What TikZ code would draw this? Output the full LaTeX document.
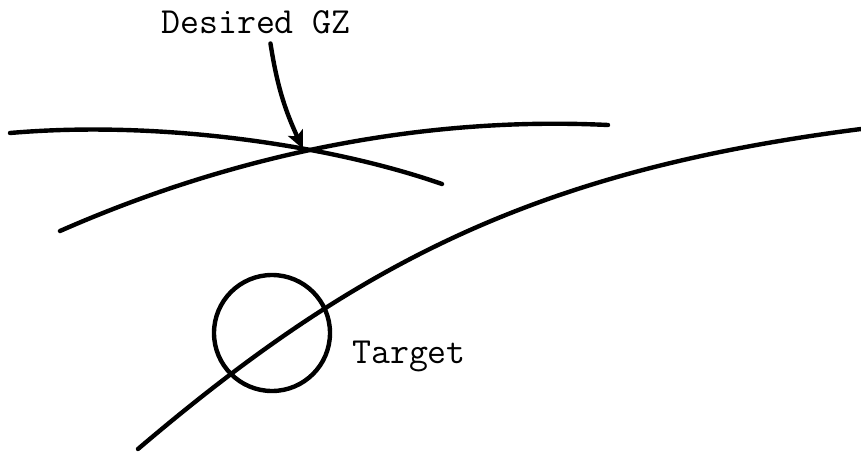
\documentclass[tikz,border=0pt]{standalone}
\usepackage{fontspec}
\usetikzlibrary{arrows.meta}

\tikzset{
    curve/.style={line width=2.2pt, line cap=round},
    lbl/.style={font=\ttfamily\fontsize{18.4}{21}\selectfont, anchor=base},
}

\begin{document}
\begin{tikzpicture}[x=0.5pt, y=-0.5pt]

    \useasboundingbox (0,0) rectangle (861,455);

    \node[lbl] (desired) at (256,33) {Desired GZ};
    \node[lbl] (tgtlabel) at (409,363) {Target};

    \coordinate (gz) at (303,149);

    % the two crossing curves
    \draw[curve] (10,133) .. controls (160,120) and (330,145) .. (442,184);
    \draw[curve] (60,231) .. controls (210,165) and (400,115) .. (608,125);

    % long curve through the target
    \draw[curve] (138,449) .. controls (360,260) and (540,170) .. (861,129);

    \node[draw, circle, line width=2.2pt, minimum size=58pt, inner sep=0pt] (target) at (272,333) {};

    % pointer to the GZ
    \draw[curve, -{Stealth[length=9pt, width=8pt, inset=2pt]}, shorten <=1.5pt]
        ([xshift=7pt]desired.south) to[bend right=8] (gz);

\end{tikzpicture}
\end{document}
